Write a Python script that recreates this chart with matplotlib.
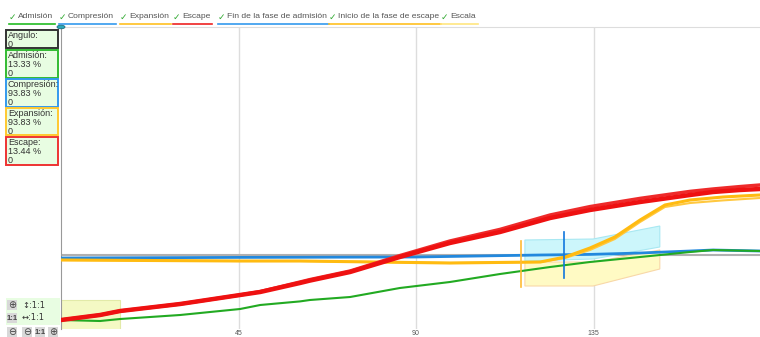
import matplotlib.pyplot as plt
from matplotlib.patches import Rectangle, Polygon, Circle

plt.rcParams['font.family'] = ['Liberation Sans', 'DejaVu Sans']

# Crank angle samples (degrees) and the phase curves
ang = [0, 9.9, 15, 30.2, 45.4, 50.5, 60.6, 63.1, 73.3, 85.9, 98.6, 111.3, 124, 134.1,
       146.8, 159.5, 165.3, 172.1, 177.2]
escape = [-32.5, -30, -28, -24.5, -20, -18.5, -14, -12.8, -8.5, -1, 6, 11.5, 18.5, 22.5,
          26.5, 30, 31.5, 32.5, 33]
escape_2 = [-32.5, -30, -28, -24.5, -20, -18.3, -13.5, -12.3, -8, -0.3, 7, 12.8, 20, 24.2,
            28.3, 31.8, 33, 34.2, 35]
admision = [-32.5, -33, -32, -30, -27, -25, -23.2, -22.5, -21, -16.5, -13.5, -9.5, -6, -3.5,
            -1, 1.5, 2.5, 2.2, 2]

ang_cmp = [0, 45, 90, 121.5, 134.1, 146.8, 159.5, 165.3, 177.2]
compresion = [-1.5, -1.2, -1, 0, 0.3, 1, 2, 2.5, 2]

ang_exp = [0, 45, 60.6, 98.6, 121.5, 127.8, 134.1, 140.4, 146.8, 153.1, 159.5, 167.8, 177.2]
expansion = [-2.5, -3, -3, -4, -3.5, -1, 3.5, 9, 17.5, 25, 27.5, 29, 30]
expansion_2 = [-2.5, -3, -3, -4, -3.5, -1.5, 2.5, 8, 16.5, 24, 26, 27.3, 28.5]

# Phase markers
fin_admision = 127.5
inicio_escape = 116.6

# Scale regions (corners, angle / value)
escala_azul = [(117.6, 7.5), (134.9, 8), (151.8, 14.5), (151.8, 4), (134.9, -2), (117.6, -3)]
escala_amarilla = [(117.6, -3.5), (134.9, -3.5), (151.8, 2.5), (151.8, -7), (134.9, -15.5), (117.6, -15.5)]
escala_inicio = [(0, -22.5), (15, -22.5), (15, -37.5), (0, -37.5)]

legend_labels = ['Admisión', 'Compresión', 'Expansión', 'Escape',
                 'Fin de la fase de admisión', 'Inicio de la fase de escape', 'Escala']
legend_colors = ['#22bb22', '#3399ee', '#ffc020', '#ee2222', '#3399ee', '#ffc020', '#ffe680']

panel_labels = ['Angulo:', 'Admisión:', 'Compresión:', 'Expansión:', 'Escape:']
panel_values = [None, '13.33 %', '93.83 %', '93.83 %', '13.44 %']
panel_colors = ['#333333', '#33bb33', '#3399ee', '#ffc830', '#ee3333']

W, H = 760, 337
fig = plt.figure(figsize=(W / 100, H / 100), dpi=100)


def fx(px):
    return px / W


def fy(py):
    return 1 - py / H


ax = fig.add_axes([fx(61), fy(329), fx(760) - fx(61), fy(27) - fy(329)])
ax.set_xlim(0, 177.2)
ax.set_ylim(-37, 114)

for g in (45, 90, 135):
    ax.axvline(g, color='#dddddd', lw=1, zorder=0)
ax.axhline(0, color='#b0b0b0', lw=1.5, zorder=1)

ax.add_patch(Polygon(escala_inicio, closed=True, fc='#f4f9c4', ec='#e2eaa8', lw=0.8, zorder=1))
ax.add_patch(Polygon(escala_amarilla, closed=True, fc='#fffac4', ec='#f8d8a8', lw=0.8, zorder=1))
ax.add_patch(Polygon(escala_azul, closed=True, fc='#ccf6fb', ec='#a8e8f2', lw=0.8, zorder=1))

ax.plot(ang_cmp, compresion, color='#2288dd', lw=2, zorder=3)
ax.plot(ang_exp, expansion_2, color='#ffc840', lw=1.5, zorder=3)
ax.plot(ang_exp, expansion, color='#ffbb11', lw=2.2, zorder=3)
ax.plot(ang, admision, color='#22aa22', lw=1.5, zorder=3)
ax.plot(ang, escape_2, color='#ee2a2a', lw=2.5, zorder=4)
ax.plot(ang, escape, color='#ee1111', lw=3.2, zorder=4)

ax.plot([inicio_escape, inicio_escape], [7, -16], color='#ffbb33', lw=1.2, zorder=5)
ax.plot([fin_admision, fin_admision], [11.5, -11.5], color='#1177dd', lw=1.2, zorder=5)

ax.set_xticks([45, 90, 135])
ax.set_yticks([])
ax.tick_params(axis='x', length=0, pad=1, labelsize=5, labelcolor='#555555')
for s in ('right', 'bottom'):
    ax.spines[s].set_visible(False)
ax.spines['top'].set_color('#dddddd')
ax.spines['left'].set_color('#999999')

# Top legend with check marks and coloured underlines
fig.canvas.draw()
renderer = fig.canvas.get_renderer()
check_x = [9, 59, 120, 173, 218, 329, 441]
for cx, lab, col in zip(check_x, legend_labels, legend_colors):
    fig.text(fx(cx), fy(17), '✓', color='#33aa33', fontsize=6.5, fontweight='bold',
             ha='left', va='center', family='DejaVu Sans')
    t = fig.text(fx(cx + 9), fy(16), lab, color='#555555', fontsize=6.1, ha='left', va='center')
    bb = t.get_window_extent(renderer)
    fig.add_artist(plt.Line2D([fx(cx), bb.x1 / W + fx(2)], [fy(23.5), fy(23.5)], color=col, lw=1.2))

fig.add_artist(Circle((fx(61), fy(27)), 4 / W, transform=fig.transFigure,
                      fc='#2aa7b8', ec='#1b6f80', lw=0.6, zorder=10))

# Left value panel
boxes = [(30, 48), (50, 78), (79, 107), (108, 135), (137, 165)]
for (y0, y1), lab, val, col in zip(boxes, panel_labels, panel_values, panel_colors):
    fig.add_artist(Rectangle((fx(6), fy(y1)), fx(58) - fx(6), fy(y0) - fy(y1),
                             fc='#e8fde2', ec=col, lw=1.4))
    lines = [lab] + ([val] if val else []) + ['0']
    for i, s in enumerate(lines):
        fig.text(fx(8), fy(y0 + 5.5 + 9 * i), s, fontsize=6.5, color='#333333', va='center')

# Zoom controls
fig.add_artist(Rectangle((fx(6), fy(325)), fx(60) - fx(6), fy(298) - fy(325),
                         fc='#e8fde2', ec='none'))
for bx, by in [(12, 305), (12, 318), (12, 332), (27, 332), (40, 332), (53, 332)]:
    fig.add_artist(Rectangle((fx(bx - 5), fy(by + 5)), 10 / W, 10 / H, fc='#d8d8d8', ec='none'))
for bx, by, s in [(12, 305, '⊕'), (12, 332, '⊖'), (27, 332, '⊖'), (53, 332, '⊕')]:
    fig.text(fx(bx), fy(by), s, fontsize=7, ha='center', va='center', color='#444444',
             family='DejaVu Sans')
for bx, by in [(12, 318), (40, 332)]:
    fig.text(fx(bx), fy(by), '1:1', fontsize=5.5, ha='center', va='center', color='#444444',
             fontweight='bold')
fig.text(fx(22), fy(305), '↕:1:1', fontsize=6, va='center', color='#333333', family='DejaVu Sans')
fig.text(fx(22), fy(318), '↔:1:1', fontsize=6, va='center', color='#333333', family='DejaVu Sans')

fig.savefig('out.png', dpi=100)
